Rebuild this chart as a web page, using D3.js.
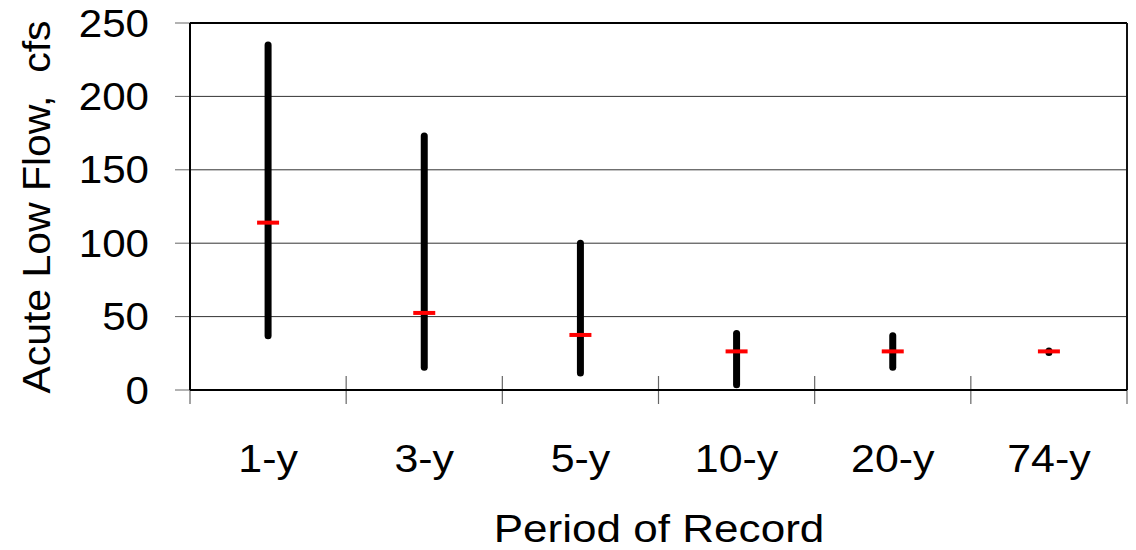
<!DOCTYPE html>
<html><head><meta charset="utf-8">
<script src="https://cdn.jsdelivr.net/npm/d3@7"></script>
<style>body{margin:0;background:#fff}svg{display:block}text{font-family:"Liberation Sans",Arial,sans-serif;fill:#000}</style>
</head><body>
<svg id="c" width="1136" height="550"></svg>
<script>
const categories = ["1-y","3-y","5-y","10-y","20-y","74-y"];
const highValues = [235, 173, 100, 38.5, 37, 26.5];
const lowValues  = [37, 15.5, 11.5, 3.5, 15.5, 25.5];
const meanValues = [114, 52.5, 37.5, 26.3, 26.3, 26.3];
const yTicks = [0, 50, 100, 150, 200, 250];

const svg = d3.select("#c");
const L = 190, R = 1127, T = 23, B = 390;
const SX = 1.08;
const x = d3.scaleBand().domain(categories).range([L, R]);
const y = d3.scaleLinear().domain([0, 250]).range([B, T]);

// gridlines
svg.append("g").selectAll("line").data(yTicks.filter(d => d > 0 && d < 250)).join("line")
  .attr("x1", L).attr("x2", R).attr("y1", d => y(d)).attr("y2", d => y(d))
  .attr("stroke", "#333").attr("stroke-width", 1);

// y ticks
svg.append("g").selectAll("line").data(yTicks).join("line")
  .attr("x1", L - 15).attr("x2", L).attr("y1", d => y(d)).attr("y2", d => y(d))
  .attr("stroke", "#666").attr("stroke-width", 1);
svg.append("g").selectAll("text").data(yTicks).join("text")
  .attr("transform", d => `translate(149,${y(d)}) scale(${SX},1)`).attr("dy", "0.35em")
  .attr("text-anchor", "end").attr("font-size", 39).text(d => d);

// x ticks
const bounds = categories.map(c => x(c)).concat([R]);
svg.append("g").selectAll("line").data(bounds).join("line")
  .attr("x1", d => d).attr("x2", d => d)
  .attr("y1", (d, i) => (i === 0 || i === bounds.length - 1) ? B : B - 14).attr("y2", B + 14)
  .attr("stroke", "#666").attr("stroke-width", 1.2);

// frame
svg.append("line").attr("x1", L).attr("x2", R).attr("y1", T).attr("y2", T).attr("stroke", "#000").attr("stroke-width", 2);
svg.append("line").attr("x1", R).attr("x2", R).attr("y1", T).attr("y2", B).attr("stroke", "#111").attr("stroke-width", 2);
svg.append("line").attr("x1", L).attr("x2", L).attr("y1", T).attr("y2", B).attr("stroke", "#000").attr("stroke-width", 2);
svg.append("line").attr("x1", L).attr("x2", R).attr("y1", B).attr("y2", B).attr("stroke", "#000").attr("stroke-width", 2);

// range bars
const cx = c => x(c) + x.bandwidth() / 2;
svg.append("g").selectAll("line").data(categories).join("line")
  .attr("x1", cx).attr("x2", cx)
  .attr("y1", (c, i) => y(highValues[i])).attr("y2", (c, i) => y(lowValues[i]))
  .attr("stroke", "#000").attr("stroke-width", 7).attr("stroke-linecap", "round");

// mean markers
svg.append("g").selectAll("line").data(categories).join("line")
  .attr("x1", c => cx(c) - 11).attr("x2", c => cx(c) + 11)
  .attr("y1", (c, i) => y(meanValues[i])).attr("y2", (c, i) => y(meanValues[i]))
  .attr("stroke", "#ff0000").attr("stroke-width", 4);

// x labels
svg.append("g").selectAll("text").data(categories).join("text")
  .attr("transform", c => `translate(${cx(c)},472) scale(1.1,1)`).attr("text-anchor", "middle")
  .attr("font-size", 39).text(d => d);

svg.append("text").attr("transform", `translate(659,542) scale(1.13,1)`).attr("text-anchor", "middle")
  .attr("font-size", 39).text("Period of Record");

svg.append("text").attr("transform", "translate(50,207) rotate(-90) scale(1.05,1)")
  .attr("text-anchor", "middle").attr("font-size", 39).attr("xml:space", "preserve")
  .text("Acute Low Flow,  cfs");
</script>
</body></html>
